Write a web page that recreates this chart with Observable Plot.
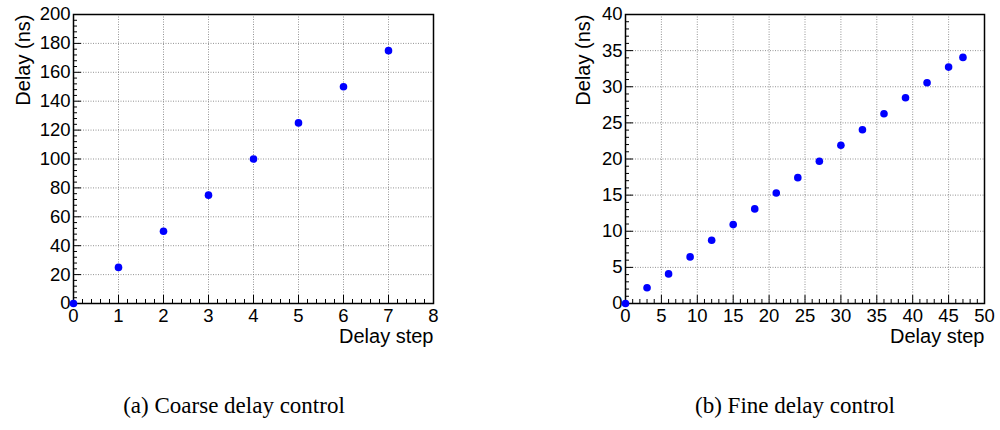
<!DOCTYPE html>
<html>
<head>
<meta charset="utf-8">
<script src="https://cdn.jsdelivr.net/npm/d3@7"></script>
<script src="https://cdn.jsdelivr.net/npm/@observablehq/plot@0.6"></script>
<style>
  html, body { margin: 0; padding: 0; background: #fff; }
  #wrap { position: relative; width: 1000px; height: 430px; overflow: hidden; }
  .panel { position: absolute; top: 0; }
  .cap { position: absolute; font-family: "Liberation Serif", "Times New Roman", serif; font-size: 23px; color: #000; white-space: nowrap; transform: translateX(-50%); }
</style>
</head>
<body>
<div id="wrap">
  <div id="left" class="panel" style="left:0px"></div>
  <div id="right" class="panel" style="left:560px"></div>
  <div class="cap" style="left:234px; top:393px">(a) Coarse delay control</div>
  <div class="cap" style="left:795px; top:393px">(b) Fine delay control</div>
</div>
<script>
// ---- Data ----
const coarseSteps  = [0, 1, 2, 3, 4, 5, 6, 7];
const coarseDelays = [0, 25, 50, 75, 100, 125, 150, 175];

const fineSteps  = [0, 3, 6, 9, 12, 15, 18, 21, 24, 27, 30, 33, 36, 39, 42, 45, 47];
const fineDelays = [0, 2.17, 4.1, 6.45, 8.76, 10.92, 13.09, 15.3, 17.42, 19.68, 21.9, 24.05, 26.27, 28.48, 30.55, 32.72, 34.06];

const coarseXTicks = [0, 1, 2, 3, 4, 5, 6, 7, 8];
const coarseYTicks = [0, 20, 40, 60, 80, 100, 120, 140, 160, 180, 200];
const fineXTicks = [0, 5, 10, 15, 20, 25, 30, 35, 40, 45, 50];
const fineYTicks = [0, 5, 10, 15, 20, 25, 30, 35, 40];

const xLabel = "Delay step";
const yLabel = "Delay (ns)";

function minorTicks(major, n) {
  const out = [];
  for (let i = 0; i < major.length - 1; i++) {
    const a = major[i], b = major[i + 1];
    for (let k = 1; k < n; k++) out.push(a + (b - a) * k / n);
  }
  return out;
}

function panel({steps, delays, xTicks, yTicks, xMinorN, yMinorN, width, height, ml, mr, mt, mb}) {
  const data = steps.map((s, i) => ({step: s, delay: delays[i]}));
  const pw = width - ml - mr, ph = height - mt - mb;
  const xMin = minorTicks(xTicks, xMinorN), yMin = minorTicks(yTicks, yMinorN);
  const grid = {stroke: "#777", strokeOpacity: 1, strokeWidth: 0.8, strokeDasharray: "1,1.5"};
  return Plot.plot({
    width, height,
    marginLeft: ml, marginRight: mr, marginTop: mt, marginBottom: mb,
    style: {fontFamily: "'Liberation Sans', Arial, sans-serif", background: "#fff", overflow: "visible"},
    x: {domain: [xTicks[0], xTicks[xTicks.length - 1]], ticks: xTicks},
    y: {domain: [yTicks[0], yTicks[yTicks.length - 1]], ticks: yTicks},
    marks: [
      Plot.gridX(xTicks.slice(1, -1), grid),
      Plot.gridY(yTicks.slice(1, -1), grid),
      // inward major/minor ticks
      Plot.tickX(xTicks, {x: d => d, insetTop: ph - 8, stroke: "#000", strokeWidth: 1}),
      Plot.tickX(xMin, {x: d => d, insetTop: ph - 4, stroke: "#000", strokeWidth: 1}),
      Plot.tickY(yTicks, {y: d => d, insetRight: pw - 8, stroke: "#000", strokeWidth: 1}),
      Plot.tickY(yMin, {y: d => d, insetRight: pw - 4, stroke: "#000", strokeWidth: 1}),
      Plot.axisX(xTicks, {tickSize: 0, tickPadding: 5, fontSize: 18.5, label: null, fill: "#000"}),
      Plot.axisY(yTicks, {tickSize: 0, tickPadding: 3, fontSize: 18.5, label: null, fill: "#000"}),
      Plot.frame({stroke: "#000", strokeWidth: 1.5}),
      Plot.dot(data, {x: "step", y: "delay", r: 3.8, fill: "#0000ff", stroke: "none"}),
      Plot.text([xLabel], {frameAnchor: "bottom-right", text: d => d, textAnchor: "end", dy: 39, fontSize: 20, fill: "#000"}),
      Plot.text([yLabel], {frameAnchor: "top-left", text: d => d, rotate: -90, textAnchor: "end", dx: -ml + 15, fontSize: 20, fill: "#000"})
    ]
  });
}

document.getElementById("left").append(panel({
  steps: coarseSteps, delays: coarseDelays, xTicks: coarseXTicks, yTicks: coarseYTicks,
  xMinorN: 5, yMinorN: 5, width: 450, height: 360, ml: 73, mr: 17, mt: 14, mb: 57
}));
document.getElementById("right").append(panel({
  steps: fineSteps, delays: fineDelays, xTicks: fineXTicks, yTicks: fineYTicks,
  xMinorN: 5, yMinorN: 5, width: 440, height: 360, ml: 65, mr: 16, mt: 14, mb: 57
}));
</script>
</body>
</html>
